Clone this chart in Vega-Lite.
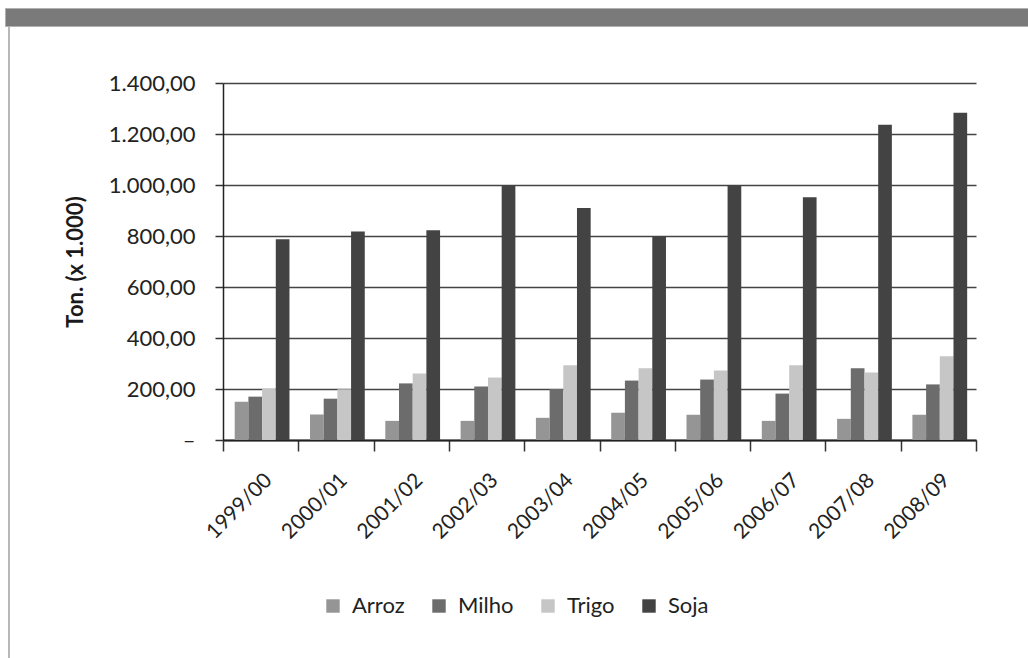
{
  "$schema": "https://vega.github.io/schema/vega-lite/v6.json",
  "background": "white",
  "padding": {"left": 4, "top": 7, "right": 0, "bottom": 0},
  "config": {
    "locale": {"number": {"decimal": ",", "thousands": ".", "grouping": [3], "currency": ["R$ ", ""]}},
    "font": "Lato",
    "view": {"stroke": null}
  },
  "align": "none",
  "spacing": -6,
  "hconcat": [
    {
      "width": 2,
      "height": 651,
      "data": {"values": []},
      "mark": {"type": "point"},
      "encoding": {},
      "view": {"fill": "#b8b8b8", "stroke": null}
    },
    {
      "align": "none",
      "spacing": 45,
      "vconcat": [
        {
          "width": 1028,
          "height": 18,
          "data": {"values": []},
          "mark": {"type": "point"},
          "encoding": {},
          "view": {"fill": "#7a7a7a", "stroke": "#b0b0b0", "strokeWidth": 1}
        },
        {
          "align": "none",
          "spacing": 58,
          "hconcat": [
            {
              "width": 1,
              "height": 1,
              "data": {"values": []},
              "mark": {"type": "point"},
              "encoding": {},
              "view": {"fill": null, "stroke": null}
            },
            {
              "width": 753,
              "height": 357,
              "data": {
                "values": [
                  {"safra": "1999/00", "cultura": "Arroz", "valor": 150},
                  {"safra": "1999/00", "cultura": "Milho", "valor": 170},
                  {"safra": "1999/00", "cultura": "Trigo", "valor": 200},
                  {"safra": "1999/00", "cultura": "Soja", "valor": 787},
                  {"safra": "2000/01", "cultura": "Arroz", "valor": 100},
                  {"safra": "2000/01", "cultura": "Milho", "valor": 162},
                  {"safra": "2000/01", "cultura": "Trigo", "valor": 199},
                  {"safra": "2000/01", "cultura": "Soja", "valor": 818},
                  {"safra": "2001/02", "cultura": "Arroz", "valor": 75},
                  {"safra": "2001/02", "cultura": "Milho", "valor": 222},
                  {"safra": "2001/02", "cultura": "Trigo", "valor": 261},
                  {"safra": "2001/02", "cultura": "Soja", "valor": 823},
                  {"safra": "2002/03", "cultura": "Arroz", "valor": 75},
                  {"safra": "2002/03", "cultura": "Milho", "valor": 210},
                  {"safra": "2002/03", "cultura": "Trigo", "valor": 245},
                  {"safra": "2002/03", "cultura": "Soja", "valor": 1000},
                  {"safra": "2003/04", "cultura": "Arroz", "valor": 87},
                  {"safra": "2003/04", "cultura": "Milho", "valor": 200},
                  {"safra": "2003/04", "cultura": "Trigo", "valor": 293},
                  {"safra": "2003/04", "cultura": "Soja", "valor": 910},
                  {"safra": "2004/05", "cultura": "Arroz", "valor": 107},
                  {"safra": "2004/05", "cultura": "Milho", "valor": 233},
                  {"safra": "2004/05", "cultura": "Trigo", "valor": 281},
                  {"safra": "2004/05", "cultura": "Soja", "valor": 800},
                  {"safra": "2005/06", "cultura": "Arroz", "valor": 99},
                  {"safra": "2005/06", "cultura": "Milho", "valor": 237},
                  {"safra": "2005/06", "cultura": "Trigo", "valor": 273},
                  {"safra": "2005/06", "cultura": "Soja", "valor": 1000},
                  {"safra": "2006/07", "cultura": "Arroz", "valor": 75},
                  {"safra": "2006/07", "cultura": "Milho", "valor": 182},
                  {"safra": "2006/07", "cultura": "Trigo", "valor": 293},
                  {"safra": "2006/07", "cultura": "Soja", "valor": 952},
                  {"safra": "2007/08", "cultura": "Arroz", "valor": 83},
                  {"safra": "2007/08", "cultura": "Milho", "valor": 281},
                  {"safra": "2007/08", "cultura": "Trigo", "valor": 265},
                  {"safra": "2007/08", "cultura": "Soja", "valor": 1236},
                  {"safra": "2008/09", "cultura": "Arroz", "valor": 99},
                  {"safra": "2008/09", "cultura": "Milho", "valor": 218},
                  {"safra": "2008/09", "cultura": "Trigo", "valor": 328},
                  {"safra": "2008/09", "cultura": "Soja", "valor": 1283}
                ]
              },
              "mark": {"type": "bar"},
              "encoding": {
                "x": {
                  "field": "safra",
                  "type": "nominal",
                  "sort": null,
                  "scale": {"paddingInner": 0, "paddingOuter": 0},
                  "axis": {
                    "title": null,
                    "labelAngle": -45,
                    "labelFontSize": 21,
                    "labelColor": "#222222",
                    "labelPadding": 18,
                    "tickBand": "extent",
                    "tickSize": 11,
                    "tickColor": "#333333",
                    "tickWidth": 1.5,
                    "domainColor": "#222222",
                    "domainWidth": 2,
                    "grid": false
                  }
                },
                "xOffset": {
                  "field": "cultura",
                  "type": "nominal",
                  "sort": ["Arroz", "Milho", "Trigo", "Soja"],
                  "scale": {"paddingInner": 0, "paddingOuter": 0.75, "align": 0.57}
                },
                "y": {
                  "field": "valor",
                  "type": "quantitative",
                  "scale": {"domain": [0, 1400], "nice": false},
                  "axis": {
                    "title": "Ton. (x 1.000)",
                    "titleFontWeight": "bold",
                    "titleFontSize": 22,
                    "titleColor": "#1a1a1a",
                    "titlePadding": 21,
                    "values": [0, 200, 400, 600, 800, 1000, 1200, 1400],
                    "format": ",.2f",
                    "labelExpr": "datum.value === 0 ? '–' : datum.label",
                    "labelFontSize": 22,
                    "labelColor": "#222222",
                    "labelPadding": 20,
                    "tickSize": 8,
                    "tickColor": "#333333",
                    "tickWidth": 1.5,
                    "domainColor": "#222222",
                    "domainWidth": 1.5,
                    "grid": true,
                    "gridColor": "#444444",
                    "gridWidth": 1.5
                  }
                },
                "color": {
                  "field": "cultura",
                  "type": "nominal",
                  "sort": ["Arroz", "Milho", "Trigo", "Soja"],
                  "scale": {
                    "domain": ["Arroz", "Milho", "Trigo", "Soja"],
                    "range": ["#959595", "#6c6c6c", "#c6c6c6", "#434343"]
                  },
                  "legend": {
                    "title": null,
                    "orient": "none",
                    "direction": "horizontal",
                    "legendX": 314,
                    "legendY": 587,
                    "symbolType": "square",
                    "symbolSize": 180,
                    "symbolStrokeWidth": 0,
                    "labelFontSize": 22,
                    "labelColor": "#222222",
                    "labelOffset": 8,
                    "columnPadding": 23
                  }
                }
              }
            }
          ]
        }
      ]
    }
  ]
}
